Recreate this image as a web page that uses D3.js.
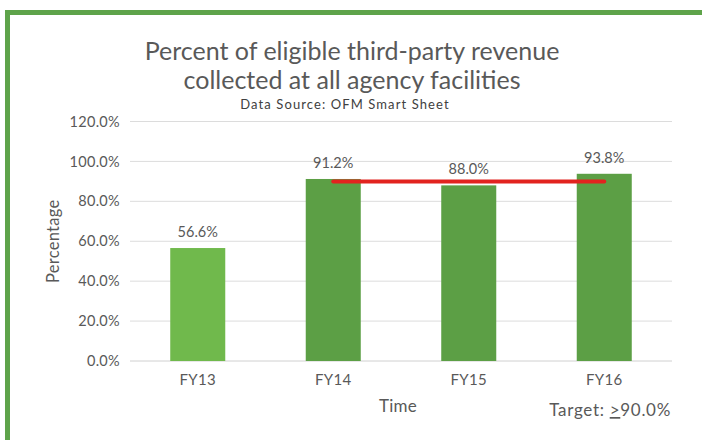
<!DOCTYPE html>
<html>
<head>
<meta charset="utf-8">
<script src="https://cdn.jsdelivr.net/npm/d3@7"></script>
<style>
  html, body { margin: 0; padding: 0; background: #fff; }
  svg { display: block; font-family: Lato, "Open Sans", sans-serif; }
</style>
</head>
<body>
<svg id="chart" width="702" height="440"></svg>
<script>
// Fiscal years and the share of eligible third-party revenue collected
const categories = ["FY13", "FY14", "FY15", "FY16"];
const values = [56.6, 91.2, 88.0, 93.8];
const barColors = ["#70b94c", "#5c9f45", "#5c9f45", "#5c9f45"];
const yTicks = [0, 20, 40, 60, 80, 100, 120];
const target = 90.0;
const targetFrom = "FY14";
const targetTo = "FY16";

const svg = d3.select("#chart");
const textColor = "#595959";

// Frame: green rule along the top and left edges
svg.append("rect").attr("x", 5).attr("y", 10).attr("width", 697).attr("height", 5).attr("fill", "#5ea34a");
svg.append("rect").attr("x", 5).attr("y", 10).attr("width", 5).attr("height", 430).attr("fill", "#5ea34a");

const plot = { left: 130, right: 672, top: 121.5, bottom: 361 };

const x = d3.scaleBand()
  .domain(categories)
  .range([plot.left, plot.right])
  .paddingInner(0.594)
  .paddingOuter(0.297);

const y = d3.scaleLinear()
  .domain([0, 120])
  .range([plot.bottom, plot.top]);

// Horizontal gridlines
svg.append("g")
  .selectAll("line")
  .data(yTicks)
  .join("line")
  .attr("x1", plot.left).attr("x2", plot.right)
  .attr("y1", d => y(d)).attr("y2", d => y(d))
  .attr("stroke", d => d === 0 ? "#d0d0d0" : "#dcdcdc")
  .attr("stroke-width", 1);

// Y axis labels
const yAxis = d3.axisLeft(y).tickValues(yTicks).tickFormat(d => d3.format(".1f")(d) + "%").tickSize(0).tickPadding(10);
const yg = svg.append("g").attr("transform", `translate(${plot.left},0)`).call(yAxis);
yg.select(".domain").remove();
yg.selectAll("text").attr("fill", textColor).style("font-size", "14.5px")
  .style("letter-spacing", "0.3px").style("font-family", "Lato, sans-serif");

// X axis labels
const xAxis = d3.axisBottom(x).tickSize(0).tickPadding(13);
const xg = svg.append("g").attr("transform", `translate(0,${plot.bottom})`).call(xAxis);
xg.select(".domain").remove();
xg.selectAll("text").attr("fill", textColor).style("font-size", "15px")
  .style("letter-spacing", "0.3px").style("font-family", "Lato, sans-serif");

// Bars
svg.append("g")
  .selectAll("rect")
  .data(values)
  .join("rect")
  .attr("x", (d, i) => x(categories[i]))
  .attr("y", d => y(d))
  .attr("width", x.bandwidth())
  .attr("height", d => y(0) - y(d))
  .attr("fill", (d, i) => barColors[i]);

// Value labels
svg.append("g")
  .selectAll("text")
  .data(values)
  .join("text")
  .attr("x", (d, i) => x(categories[i]) + x.bandwidth() / 2)
  .attr("y", d => y(d) - 11)
  .attr("text-anchor", "middle")
  .attr("fill", textColor)
  .style("font-size", "14.5px")
  .text(d => d3.format(".1f")(d) + "%");

// Target line across FY14..FY16
svg.append("line")
  .attr("x1", x(targetFrom) + x.bandwidth() / 2)
  .attr("x2", x(targetTo) + x.bandwidth() / 2)
  .attr("y1", y(target)).attr("y2", y(target))
  .attr("stroke", "#e2231f")
  .attr("stroke-width", 4)
  .attr("stroke-linecap", "round");

// Titles
svg.append("text").attr("x", 352).attr("y", 60).attr("text-anchor", "middle")
  .attr("fill", textColor).style("font-size", "25px")
  .text("Percent of eligible third-party revenue");
svg.append("text").attr("x", 352).attr("y", 89).attr("text-anchor", "middle")
  .attr("fill", textColor).style("font-size", "25px")
  .text("collected at all agency facilities");
svg.append("text").attr("x", 345).attr("y", 109).attr("text-anchor", "middle")
  .attr("fill", "#404040").style("font-size", "13px").style("letter-spacing", "1.1px")
  .text("Data Source: OFM Smart Sheet");

// Axis titles
svg.append("text").attr("x", 398).attr("y", 412).attr("text-anchor", "middle")
  .attr("fill", textColor).style("font-size", "17px").style("letter-spacing", "0.3px").text("Time");
svg.append("text")
  .attr("transform", `translate(59,${(plot.top + plot.bottom) / 2}) rotate(-90)`)
  .attr("text-anchor", "middle")
  .attr("fill", textColor).style("font-size", "16.5px").style("letter-spacing", "0.3px").text("Percentage");

// Target note
const note = svg.append("text").attr("x", 671).attr("y", 416).attr("text-anchor", "end")
  .attr("fill", textColor).style("font-size", "17px").style("letter-spacing", "0.7px");
note.append("tspan").text("Target: ");
note.append("tspan").style("text-decoration", "underline").text(">");
note.append("tspan").text(d3.format(".1f")(target) + "%");
</script>
</body>
</html>
